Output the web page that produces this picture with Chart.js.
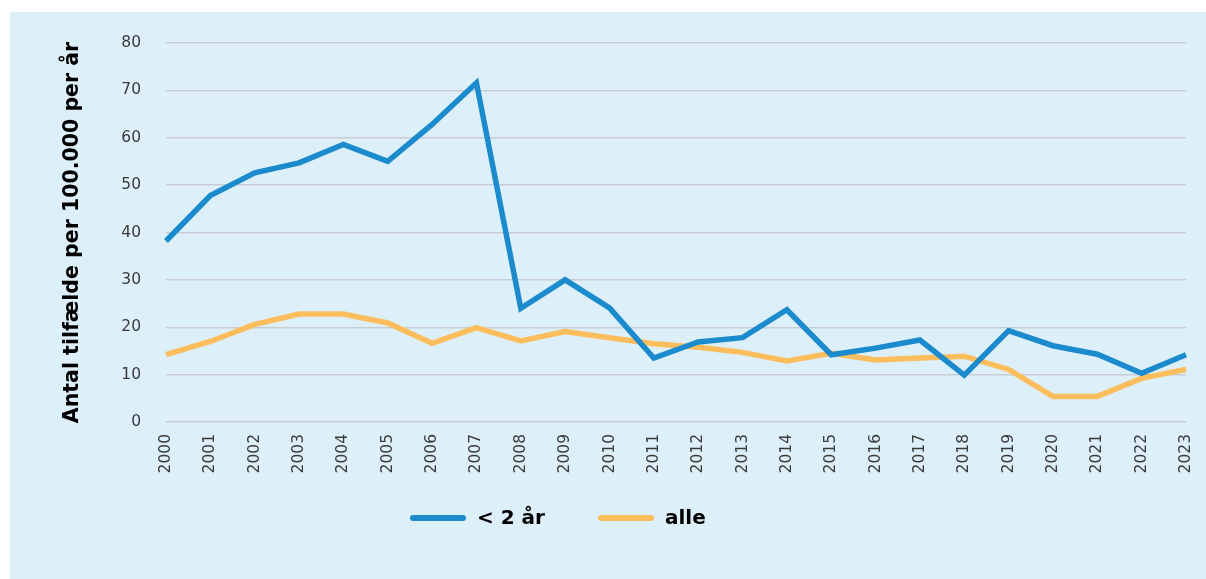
<!DOCTYPE html>
<html><head><meta charset="utf-8">
<script src="https://cdn.jsdelivr.net/npm/chart.js@4"></script>
<style>html,body{margin:0;padding:0;background:#fff}canvas{display:block}</style>
</head><body>
<div style="width:1206px;height:579px"><canvas id="c" width="1206" height="579"></canvas></div>
<script>
const years = ['2000','2001','2002','2003','2004','2005','2006','2007','2008','2009','2010','2011','2012','2013','2014','2015','2016','2017','2018','2019','2020','2021','2022','2023'];
const under2 = [38.2,47.8,52.6,54.7,58.6,55.0,62.8,71.6,24.0,30.0,24.1,13.5,16.9,17.8,23.7,14.2,15.6,17.3,9.9,19.3,16.1,14.3,10.3,14.2];
const alle = [14.2,17.0,20.6,22.8,22.8,20.9,16.6,19.9,17.1,19.1,17.8,16.5,15.8,14.7,12.9,14.5,13.1,13.5,13.9,11.1,5.4,5.4,9.2,11.1];
const yTicks = [0,10,20,30,40,50,60,70,80];
const seriesNames = ['< 2 år','alle'];
const colors = ['#1b8bcd','#fcbd5c'];

const bgPlugin = {
  id:'bg',
  beforeDraw(chart){
    const ctx = chart.ctx;
    ctx.save();
    ctx.fillStyle='#ffffff';
    ctx.fillRect(0,0,chart.width,chart.height);
    ctx.fillStyle='#ddf0fa';
    ctx.fillRect(10,12,chart.width-10,chart.height-12);
    ctx.restore();
  }
};
const legendPlugin = {
  id:'customLegend',
  afterDraw(chart){
    const ctx = chart.ctx;
    const y = 518;
    const starts = [410, 598];
    ctx.save();
    ctx.font = 'bold 20px "DejaVu Sans"';
    ctx.textBaseline = 'middle';
    chart.data.datasets.forEach((ds,i)=>{
      const x = starts[i];
      ctx.strokeStyle = ds.borderColor;
      ctx.lineWidth = 6;
      ctx.lineCap = 'round';
      ctx.beginPath(); ctx.moveTo(x+3,y); ctx.lineTo(x+53,y); ctx.stroke();
      ctx.fillStyle = '#000';
      ctx.fillText(ds.label, x+67, y+1);
    });
    ctx.restore();
  }
};

new Chart(document.getElementById('c'), {
  type:'line',
  data:{
    labels: years,
    datasets:[
      {label: seriesNames[0], data: under2, borderColor: colors[0], backgroundColor: colors[0], borderWidth:5.5, pointRadius:0, tension:0, fill:false},
      {label: seriesNames[1], data: alle, borderColor: colors[1], backgroundColor: colors[1], borderWidth:5.5, pointRadius:0, tension:0, fill:false}
    ]
  },
  options:{
    responsive:false,
    animation:false,
    layout:{padding:{left:40,right:20,top:43,bottom:97}},
    plugins:{legend:{display:false},tooltip:{enabled:false}},
    scales:{
      x:{
        offset:false,
        grid:{display:false,drawTicks:false},
        border:{display:false},
        ticks:{minRotation:90,maxRotation:90,padding:12,color:'#3a3a3a',font:{family:'"DejaVu Sans"',size:15.5},autoSkip:false},
        afterFit(s){ s.height = 60; s.paddingLeft = 0; s.paddingRight = 0; }
      },
      y:{
        min:0,max:80,
        afterBuildTicks(s){ s.ticks = yTicks.map(v=>({value:v})); },
        grid:{color:'#c9cdd1',lineWidth:1.5,drawTicks:false},
        border:{display:false},
        ticks:{padding:25,color:'#3a3a3a',font:{family:'"DejaVu Sans"',size:15.5}},
        title:{display:true,text:'Antal tilfælde per 100.000 per år',color:'#000',font:{family:'"DejaVu Sans"',weight:'bold',size:20.5},padding:{top:20,bottom:0}},
        afterFit(s){ s.width = 126; s.paddingTop = 0; s.paddingBottom = 0; }
      }
    }
  },
  plugins:[bgPlugin,legendPlugin]
});
</script>
</body></html>
